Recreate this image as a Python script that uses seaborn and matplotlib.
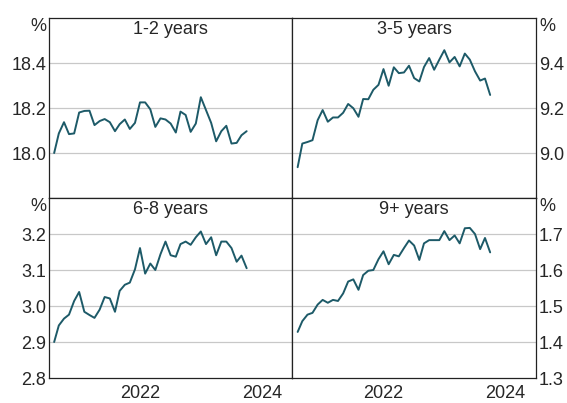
import numpy as np
import pandas as pd
import matplotlib
matplotlib.use("Agg")
import matplotlib.pyplot as plt
import seaborn as sns

sns.set_style("white")
plt.rcParams['font.family'] = ['Liberation Sans', 'DejaVu Sans']

dates = pd.date_range('2021-02-01', periods=39, freq='MS')

yrs_1_2 = [18.000, 18.087, 18.137, 18.084, 18.087, 18.180, 18.187, 18.188, 18.124, 18.142,
           18.151, 18.137, 18.097, 18.128, 18.149, 18.107, 18.134, 18.225, 18.225, 18.194,
           18.116, 18.154, 18.149, 18.131, 18.091, 18.184, 18.169, 18.094, 18.131, 18.248,
           18.191, 18.134, 18.052, 18.097, 18.121, 18.042, 18.045, 18.079, 18.097]
yrs_3_5 = [8.937, 9.042, 9.049, 9.057, 9.146, 9.191, 9.139, 9.158, 9.158, 9.179,
           9.218, 9.199, 9.161, 9.240, 9.239, 9.281, 9.303, 9.373, 9.299, 9.381,
           9.355, 9.358, 9.388, 9.333, 9.318, 9.382, 9.422, 9.370, 9.415, 9.457,
           9.403, 9.427, 9.385, 9.442, 9.415, 9.363, 9.322, 9.331, 9.258]
yrs_6_8 = [2.900, 2.946, 2.965, 2.976, 3.014, 3.039, 2.984, 2.975, 2.967, 2.990,
           3.025, 3.021, 2.984, 3.042, 3.059, 3.065, 3.102, 3.161, 3.090, 3.118,
           3.100, 3.144, 3.179, 3.141, 3.137, 3.172, 3.179, 3.170, 3.191, 3.207,
           3.172, 3.191, 3.141, 3.179, 3.179, 3.161, 3.123, 3.140, 3.105]
yrs_9_plus = [1.428, 1.458, 1.476, 1.481, 1.504, 1.517, 1.509, 1.517, 1.514, 1.535,
              1.568, 1.574, 1.545, 1.586, 1.598, 1.600, 1.630, 1.652, 1.616, 1.642,
              1.638, 1.661, 1.682, 1.668, 1.628, 1.674, 1.683, 1.683, 1.683, 1.708,
              1.683, 1.696, 1.674, 1.716, 1.717, 1.700, 1.658, 1.689, 1.649]

titles = ['1-2 years', '3-5 years', '6-8 years', '9+ years']
series = [yrs_1_2, yrs_3_5, yrs_6_8, yrs_9_plus]
ylims = [(17.8, 18.6), (8.8, 9.6), (2.8, 3.3), (1.3, 1.8)]
yticks = [[18.0, 18.2, 18.4], [9.0, 9.2, 9.4],
          [2.8, 2.9, 3.0, 3.1, 3.2], [1.3, 1.4, 1.5, 1.6, 1.7]]

line_col = '#1d5a68'
fs = 13

fig, axes = plt.subplots(2, 2, figsize=(5.67, 4.03), dpi=100)
fig.subplots_adjust(left=0.0864, right=0.9453, top=0.9553, bottom=0.062,
                    hspace=0, wspace=0)

for i, ax in enumerate(axes.flat):
    df = pd.DataFrame({'date': dates, 'value': series[i]})
    sns.lineplot(data=df, x='date', y='value', ax=ax, color=line_col, linewidth=1.4)
    ax.set_xlim(pd.Timestamp('2021-01-01'), pd.Timestamp('2025-01-01'))
    ax.set_ylim(*ylims[i])
    ax.set_xlabel('')
    ax.set_ylabel('')
    for v in yticks[i]:
        if ylims[i][0] < v < ylims[i][1]:
            ax.axhline(v, color='#c8c8c8', linewidth=0.9, zorder=0)
    ax.set_yticks(yticks[i])
    ax.set_yticklabels([f'{v:.1f}' for v in yticks[i]], fontsize=fs)
    ax.tick_params(axis='y', length=0, pad=2)
    if i % 2 == 1:
        ax.yaxis.tick_right()
        ax.text(1.012, 0.955, '%', transform=ax.transAxes, ha='left', va='center', fontsize=fs)
    else:
        ax.text(-0.012, 0.955, '%', transform=ax.transAxes, ha='right', va='center', fontsize=fs)
    ax.text(0.5, 0.935, titles[i], transform=ax.transAxes, ha='center', va='center', fontsize=fs)
    for s in ax.spines.values():
        s.set_color('#222222')
        s.set_linewidth(0.9)

    if i < 2:
        ax.set_xticks([])
    else:
        ax.set_xticks([pd.Timestamp(f'{y}-01-01') for y in (2022, 2023, 2024)])
        ax.set_xticklabels([])
        ax.tick_params(axis='x', which='major', direction='in', length=6, color='#222222')
        ax.set_xticks([pd.Timestamp('2022-07-02'), pd.Timestamp('2024-07-02')], minor=True)
        ax.set_xticklabels(['2022', '2024'], minor=True, fontsize=fs)
        ax.tick_params(axis='x', which='minor', length=0, pad=5)

fig.savefig('out.png', dpi=100)
